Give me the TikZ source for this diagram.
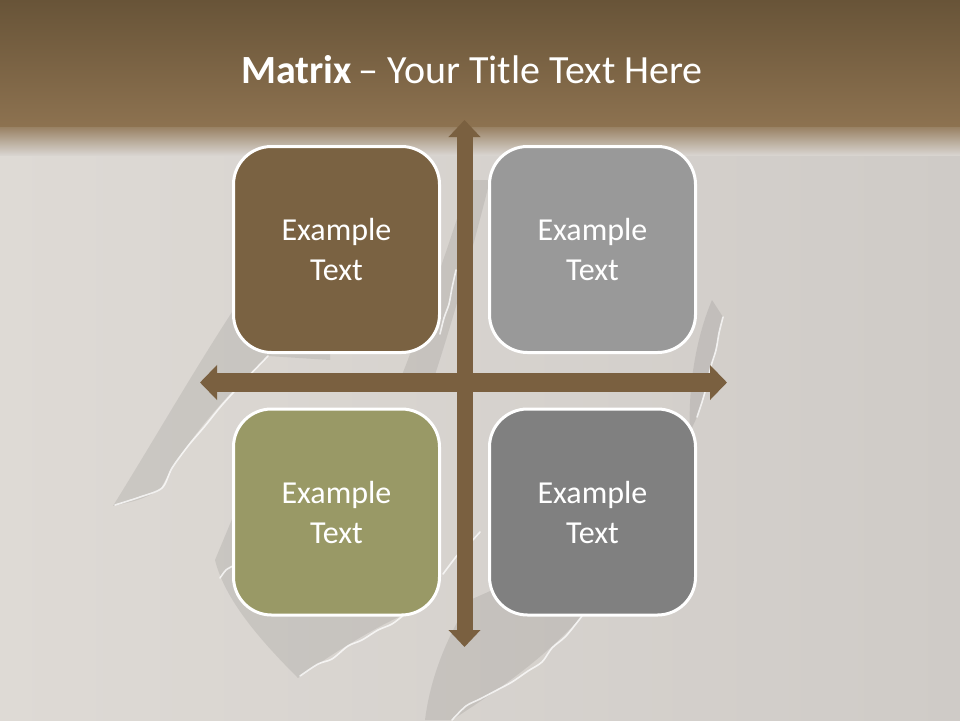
\documentclass[tikz,border=0pt]{standalone}
\usepackage{fontspec}
\setmainfont{Carlito}
\usetikzlibrary{arrows.meta}

\definecolor{barTop}{HTML}{685438}
\definecolor{barBottom}{HTML}{8D7250}
\definecolor{bgLeft}{HTML}{DEDAD5}
\definecolor{bgRight}{HTML}{CFCBC7}
\definecolor{axisBrown}{HTML}{7A6040}
\definecolor{cellBrown}{HTML}{7A6242}
\definecolor{cellSilver}{HTML}{999999}
\definecolor{cellOlive}{HTML}{999966}
\definecolor{cellGrey}{HTML}{808080}

\tikzset{
  cell/.style={draw=white, line width=3pt, rounded corners=38pt, minimum size=206pt,
    text=white, align=center, font=\fontsize{32}{40}\selectfont},
  haxis/.style={axisBrown, line width=18.5pt,
    {Triangle[width=34pt,length=17pt]}-{Triangle[width=34pt,length=17pt]}},
  vaxis/.style={axisBrown, line width=16pt,
    {Triangle[width=31pt,length=17pt]}-{Triangle[width=31pt,length=17pt]}},
  scratch/.style={fill=black, opacity=0.08},
  crack/.style={white, line width=1.6pt, opacity=0.75, line cap=round, line join=round},
}

\begin{document}
\begin{tikzpicture}[x=1pt, y=-1pt]

  \useasboundingbox (0,0) rectangle (960,720);

  % --- Background ---
  \shade[left color=bgLeft, right color=bgRight] (0,0) rectangle (960,720);
  \shade[top color=barTop, bottom color=barBottom] (0,0) rectangle (960,127);
  \shade[top color=barBottom!85!bgLeft, bottom color=bgLeft!60!bgRight] (0,127) rectangle (960,155);

  % --- Scratches ---
  \fill[scratch] (113,506) .. controls (160,430) and (200,360) .. (240,300)
    -- (330,300) -- (330,360) -- (268,356)
    .. controls (220,400) and (180,450) .. (160,490)
    .. controls (140,500) .. (113,506) -- cycle;
  \fill[scratch] (298,678) .. controls (260,640) and (225,600) .. (215,560)
    -- (240,500) -- (420,560) -- (405,614)
    .. controls (370,630) and (330,655) .. (298,678) -- cycle;
  \fill[scratch] (425,720) .. controls (430,680) and (445,640) .. (470,600)
    -- (560,560) -- (582,616)
    .. controls (540,663) and (490,695) .. (452,720) -- cycle;
  \fill[scratch] (690,432) .. controls (688,390) and (695,340) .. (712,300)
    -- (723,317) .. controls (715,350) and (705,395) .. (697,417) -- cycle;
  \fill[scratch] (400,380) .. controls (420,330) and (440,270) .. (470,180)
    -- (490,180) .. controls (470,260) and (450,330) .. (430,390) -- cycle;

  \draw[crack] plot[smooth] coordinates {(115,505) (140,497) (162,488) (172,468)
    (188,446) (205,426) (222,405) (245,380) (268,356)};
  \draw[crack] plot[smooth] coordinates {(300,676) (318,664) (332,659) (348,646)
    (362,640) (378,630) (392,624) (405,614)};
  \draw[crack] plot[smooth] coordinates {(452,720) (466,706) (480,699) (497,690)
    (512,682) (528,671) (542,662) (552,648) (566,636) (582,616)};
  \draw[crack] plot[smooth] coordinates {(697,417) (702,402) (706,388) (711,366)
    (716,350) (719,333) (723,317)};
  \draw[crack] plot[smooth] coordinates {(440,334) (444,318) (449,304) (452,288) (456,270)};
  \draw[crack] plot[smooth] coordinates {(443,574) (452,562) (460,552) (470,543) (480,532)};
  \draw[crack] plot[smooth] coordinates {(220,578) (226,570) (233,566)};

  % --- Axes ---
  \coordinate (vtop) at (464.5,120);
  \coordinate (vbot) at (464.5,647);
  \coordinate (hleft) at (200,382.5);
  \coordinate (hright) at (727,382.5);
  \draw[haxis] (hleft) -- (hright);
  \draw[vaxis] (vtop) -- (vbot);

  % --- Cells ---
  \foreach \name/\cx/\cy/\cellfill in {tl/336.5/249.5/cellBrown, tr/592.5/249.5/cellSilver,
      bl/336.5/512/cellOlive, br/592.5/512/cellGrey}
    \node[cell, fill=\cellfill] (\name) at (\cx,\cy) {Example\\Text};

  % --- Title ---
  \node[font=\fontsize{40}{48}\selectfont, text=white, anchor=base] (title) at (472,83)
    {\textbf{Matrix}\,– Your Title Text Here};

\end{tikzpicture}
\end{document}
